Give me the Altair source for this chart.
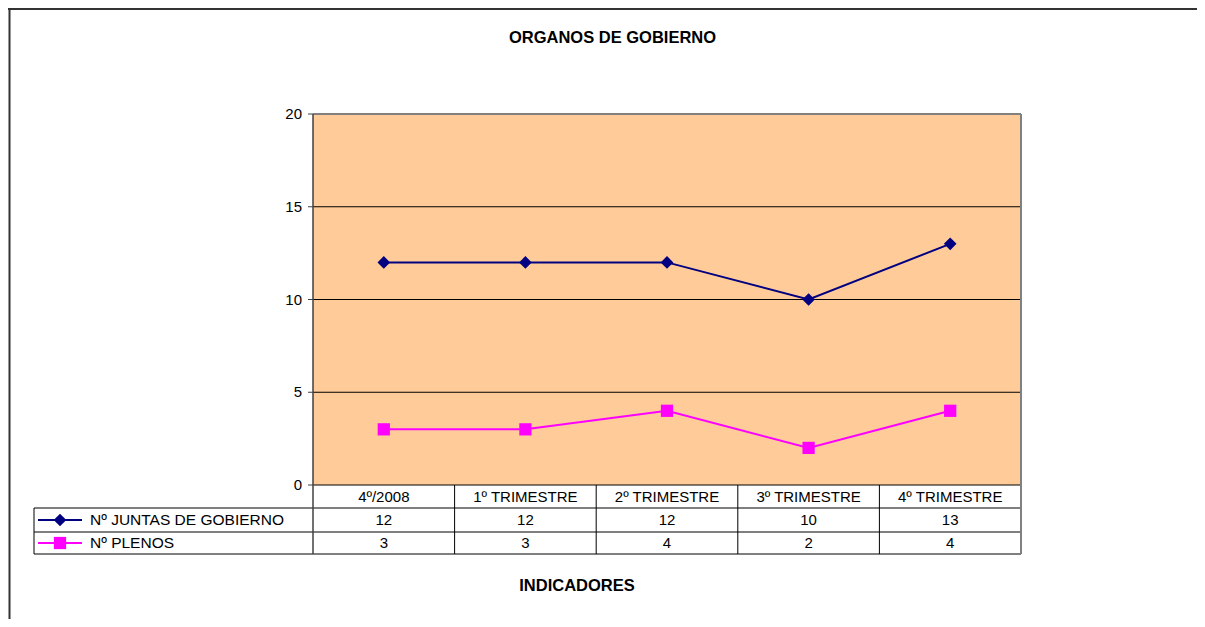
import altair as alt
import pandas as pd

# ---------------- data ----------------
categories = ["4º/2008", "1º TRIMESTRE", "2º TRIMESTRE", "3º TRIMESTRE", "4º TRIMESTRE"]
series_names = ["Nº JUNTAS DE GOBIERNO", "Nº PLENOS"]
juntas = [12, 12, 12, 10, 13]
plenos = [3, 3, 4, 2, 4]
y_ticks = [0, 5, 10, 15, 20]
title_text = "ORGANOS DE GOBIERNO"
x_title_text = "INDICADORES"

# ---------------- layout (page pixels -> data units) ----------------
W, H = 1189, 611
PLOT_L, PLOT_R, PLOT_T, PLOT_B = 313, 1021, 114, 485
Y_MAX = 20
N = len(categories)
XU = (PLOT_R - PLOT_L) / N
YU = (PLOT_B - PLOT_T) / Y_MAX


def px(p):
    return (p - PLOT_L) / XU


def py(p):
    return Y_MAX - (p - PLOT_T) / YU


X0, X1 = px(8), px(8 + W)
Y0, Y1 = py(8 + H), py(8)
xs = alt.Scale(domain=[X0, X1], nice=False, zero=False)
ys = alt.Scale(domain=[Y0, Y1], nice=False, zero=False)

NAVY = "#000080"
MAGENTA = "#FF00FF"
PEACH = "#FFCC99"
FONT = "Liberation Sans"

ROW_HDR, ROW1, ROW2 = py(497), py(520), py(543)
TBL_LINES = [py(508), py(532), py(554)]
TBL_LEFT = px(34)
series_rows = [ROW1, ROW2]
series_vals = [juntas, plenos]
series_colors = [NAVY, MAGENTA]
series_shapes = ["diamond", "square"]


def X(f="x"):
    return alt.X(f"{f}:Q", scale=xs, axis=None)


def Y(f="y"):
    return alt.Y(f"{f}:Q", scale=ys, axis=None)


def segs(rows):
    return pd.DataFrame(rows, columns=["x", "x2", "y", "y2"])


def rules(rows, color, width):
    return alt.Chart(segs(rows)).mark_rule(color=color, strokeWidth=width).encode(
        x=X(), x2="x2:Q", y=Y(), y2="y2:Q"
    )


layers = []

# outer frame (top & left edges)
layers.append(rules([[X0, X1, py(9), py(9)], [px(9.5), px(9.5), Y1, Y0]], "#333333", 2))

# plot background
layers.append(
    alt.Chart(pd.DataFrame({"x": [0], "x2": [N], "y": [0], "y2": [Y_MAX]}))
    .mark_rect(color=PEACH)
    .encode(x=X(), x2="x2:Q", y=Y(), y2="y2:Q")
)

# gridlines
layers.append(rules([[0, N, v, v] for v in y_ticks[1:-1]], "black", 1))

# table lines
tbl = [[0, N, 0, 0]]
tbl += [[TBL_LEFT, N, v, v] for v in TBL_LINES]
tbl += [[i, i, 0, TBL_LINES[-1]] for i in range(1, N)]
tbl += [[TBL_LEFT, TBL_LEFT, TBL_LINES[0], TBL_LINES[-1]]]
layers.append(rules(tbl, "black", 1))

# plot border (top & right, grey)
layers.append(rules([[0, N, Y_MAX, Y_MAX], [N, N, Y_MAX, TBL_LINES[-1]]], "#808080", 2))

# left axis + ticks
layers.append(rules([[0, 0, TBL_LINES[-1], Y_MAX]], "#404040", 1.5))
layers.append(rules([[px(308), 0, v, v] for v in y_ticks], "#404040", 1))

# y labels
layers.append(
    alt.Chart(pd.DataFrame({"x": [px(302)] * len(y_ticks), "y": y_ticks, "t": [str(v) for v in y_ticks]}))
    .mark_text(align="right", baseline="middle", font=FONT, fontSize=15, color="black")
    .encode(x=X(), y=Y(), text="t:N")
)

# series lines and markers
for name, vals, col, shp in zip(series_names, series_vals, series_colors, series_shapes):
    df = pd.DataFrame({"x": [i + 0.5 for i in range(N)], "y": vals})
    layers.append(alt.Chart(df).mark_line(color=col, strokeWidth=2).encode(x=X(), y=Y()))
    layers.append(
        alt.Chart(df)
        .mark_point(shape=shp, filled=True, size=160 if shp == "diamond" else 150, color=col, opacity=1)
        .encode(x=X(), y=Y())
    )

# table header (categories)
layers.append(
    alt.Chart(pd.DataFrame({"x": [i + 0.5 for i in range(N)], "y": [ROW_HDR] * N, "t": categories}))
    .mark_text(align="center", baseline="middle", font=FONT, fontSize=15, color="black")
    .encode(x=X(), y=Y(), text="t:N")
)

# table values + legend keys
for name, vals, col, shp, row in zip(series_names, series_vals, series_colors, series_shapes, series_rows):
    layers.append(
        alt.Chart(pd.DataFrame({"x": [i + 0.5 for i in range(N)], "y": [row] * N, "t": [str(v) for v in vals]}))
        .mark_text(align="center", baseline="middle", font=FONT, fontSize=15, color="black")
        .encode(x=X(), y=Y(), text="t:N")
    )
    layers.append(rules([[px(38), px(82), row, row]], col, 2))
    layers.append(
        alt.Chart(pd.DataFrame({"x": [px(60)], "y": [row]}))
        .mark_point(shape=shp, filled=True, size=160 if shp == "diamond" else 150, color=col, opacity=1)
        .encode(x=X(), y=Y())
    )
    layers.append(
        alt.Chart(pd.DataFrame({"x": [px(90)], "y": [row], "t": [name]}))
        .mark_text(align="left", baseline="middle", font=FONT, fontSize=15.5, color="black")
        .encode(x=X(), y=Y(), text="t:N")
    )

# titles
layers.append(
    alt.Chart(pd.DataFrame({"x": [px(612.5), px(577)], "y": [py(38), py(586)], "t": [title_text, x_title_text]}))
    .mark_text(align="center", baseline="middle", font=FONT, fontSize=16.5, fontWeight="bold", color="black")
    .encode(x=X(), y=Y(), text="t:N")
)

chart = (
    alt.layer(*layers)
    .properties(width=W, height=H, padding=0, autosize=alt.AutoSizeParams(type="none"), background="white")
    .configure_view(stroke=None)
)

chart.save("out.html", embed_options={"renderer": "svg", "actions": False})
